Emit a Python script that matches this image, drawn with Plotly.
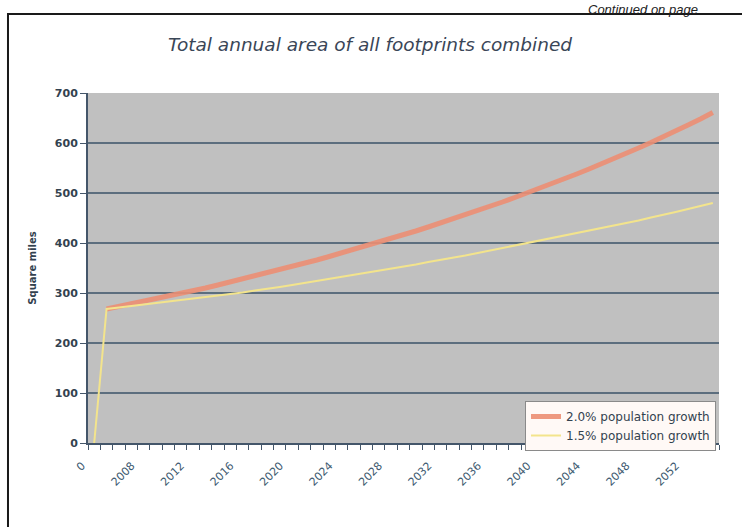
import plotly.graph_objects as go

# Categories: first "0", then years 2005..2054
categories = ["0"] + [str(y) for y in range(2005, 2055)]
tick_labels = ["0", "2008", "2012", "2016", "2020", "2024", "2028", "2032",
               "2036", "2040", "2044", "2048", "2052"]
tick_label_idx = [0, 4, 8, 12, 16, 20, 24, 28, 32, 36, 40, 44, 48]

growth_20 = [None, 268, 273, 278, 283, 288, 294, 299, 305, 310, 316,
             322, 328, 334, 340, 347, 353, 360, 366, 373, 380,
             387, 394, 401, 409, 416, 424, 432, 440, 448, 456,
             465, 473, 482, 491, 500, 509, 519, 528, 538, 548,
             558, 569, 579, 590, 601, 612, 624, 636, 648, 661]
growth_15 = [0, 268, 271, 274, 277, 279, 282, 285, 288, 291, 294,
             298, 301, 305, 308, 312, 316, 320, 324, 328, 332,
             336, 340, 344, 349, 353, 357, 362, 366, 371, 375,
             380, 385, 389, 394, 399, 404, 409, 414, 419, 424,
             429, 435, 440, 445, 451, 456, 462, 468, 474, 480]

series_names = ["2.0% population growth", "1.5% population growth"]

x_idx = list(range(len(categories)))
font_main = "DejaVu Sans, Liberation Sans, Arial, sans-serif"
ink = "#33424f"

fig = go.Figure()
fig.add_trace(go.Scatter(
    x=x_idx, y=growth_20, mode="lines", name=series_names[0],
    line=dict(color="rgba(236,142,115,0.9)", width=5),
    customdata=categories,
))
fig.add_trace(go.Scatter(
    x=x_idx, y=growth_15, mode="lines", name=series_names[1],
    line=dict(color="#F3E48C", width=2),
    customdata=categories,
))

fig.update_layout(
    width=742, height=527,
    margin=dict(l=88, r=23, t=93, b=84),
    paper_bgcolor="white",
    plot_bgcolor="#C0C0C0",
    showlegend=True,
    title=dict(
        text="Total annual area of all footprints combined",
        x=370 / 742, xref="container", xanchor="center",
        y=1 - 45 / 527, yref="container", yanchor="middle",
        font=dict(family=font_main, size=18.5, color="#3a4657", style="italic"),
    ),
    legend=dict(
        x=1 - 3 / 631, y=0.12, xanchor="right", yanchor="top",
        bgcolor="#FFF9F6", bordercolor="#8a8a8a", borderwidth=1,
        font=dict(family=font_main, size=12, color=ink),
        tracegroupgap=0, itemwidth=30,
    ),
    xaxis=dict(
        range=[-0.5, len(categories) - 0.5],
        tickmode="array", tickvals=tick_label_idx, ticktext=tick_labels,
        tickangle=-45, ticks="",
        ticklabelstandoff=10, ticklabelshift=-12,
        tickfont=dict(family=font_main, size=11, color="#3d5a70"),
        showgrid=False, zeroline=False,
        showline=True, linecolor="#44566a", linewidth=2,
        minor=dict(ticks="outside", tick0=-0.5, dtick=1, ticklen=5,
                   tickcolor="#44566a", tickwidth=1, showgrid=False),
    ),
    yaxis=dict(
        range=[0, 700], dtick=100, tick0=0,
        ticks="outside", ticklen=6, tickcolor="#44566a",
        tickfont=dict(family=font_main, size=11, color=ink, weight="bold"),
        showgrid=True, gridcolor="#5c6e7e", gridwidth=2,
        zeroline=False,
        showline=True, linecolor="#44566a", linewidth=2,
        title=dict(text="Square miles",
                   font=dict(family=font_main, size=10, color=ink, weight="bold"),
                   standoff=16),
    ),
    shapes=[
        dict(type="rect", xref="paper", yref="paper",
             x0=-0.1268, x1=1.2, y0=-0.6, y1=1.2257,
             line=dict(color="#1a1a1a", width=2), fillcolor="rgba(0,0,0,0)",
             layer="below"),
    ],
    annotations=[
        dict(text="Continued on page", xref="paper", yref="paper",
             x=(700 - 88) / 631, y=443 / 350, xanchor="right", yanchor="top",
             showarrow=False,
             font=dict(family="Liberation Sans, Arial, sans-serif", size=13,
                       color="#222222", style="italic")),
    ],
)

fig.write_html("out.html")
